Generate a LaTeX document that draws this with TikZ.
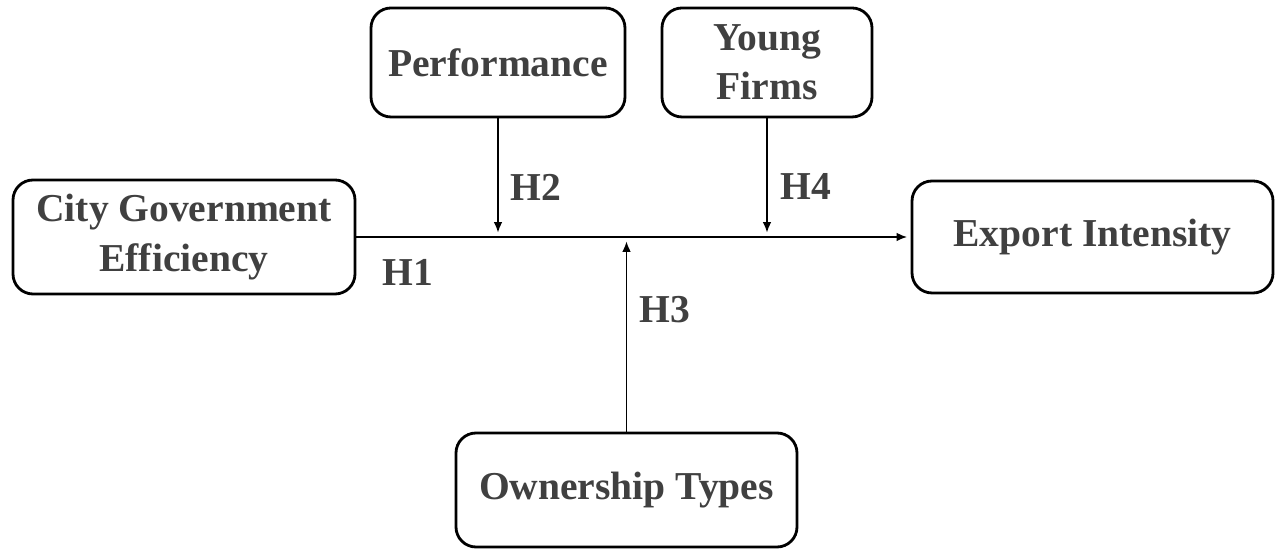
\documentclass[tikz,border=0pt]{standalone}
\usepackage{fontspec}
\setmainfont{Liberation Serif}
\usetikzlibrary{arrows.meta}
\usetikzlibrary{positioning}
\usetikzlibrary{calc}
\definecolor{textgray}{RGB}{64,64,64}
\tikzstyle{box}=[draw=black, line width=1.6pt, rounded corners=0.4cm, align=center, text=textgray, inner sep=0pt, font=\bfseries\fontsize{22.5}{28}\selectfont]
\tikzstyle{edge} = [draw, line width=1pt, -{Latex[length=6pt,width=5pt]}]
\tikzstyle{hyp} = [text=textgray, font=\bfseries\fontsize{22.5}{28}\selectfont]

\begin{document}
\begin{tikzpicture}

  \useasboundingbox (0,0) rectangle (25.52,11.04);

  % constructs
  \node[box, minimum width=6.84cm, minimum height=2.28cm] (city) at (3.68, 6.30) {City Government\\Efficiency};
  \node[box, minimum width=7.22cm, minimum height=2.24cm] (export) at (21.85, 6.30) {Export Intensity};
  \node[box, minimum width=5.08cm, minimum height=2.18cm] (perf) at (9.96, 9.79) {Performance};
  \node[box, minimum width=4.20cm, minimum height=2.18cm] (young) at (15.34, 9.79) {Young\\Firms};
  \node[box, minimum width=6.82cm, minimum height=2.28cm] (owner) at (12.53, 1.24) {Ownership Types};

  % main effect
  \path[edge, shorten >=2pt] (city.east) -- (export.west);

  % moderators
  \foreach \source/\name in {perf/m2, young/m4, owner/m3}
         \coordinate (\name) at (\source |- city.east);

  \foreach \source/\dest in {perf/m2, young/m4, owner/m3}
         \path[edge, shorten >=2.5pt] (\source) -- (\dest);

  \foreach \x/\y/\label in {8.16/5.60/H1, 10.72/7.30/H2, 13.30/4.84/H3, 16.12/7.30/H4}
         \node[hyp] (\label) at (\x, \y) {\label};

\end{tikzpicture}
\end{document}
